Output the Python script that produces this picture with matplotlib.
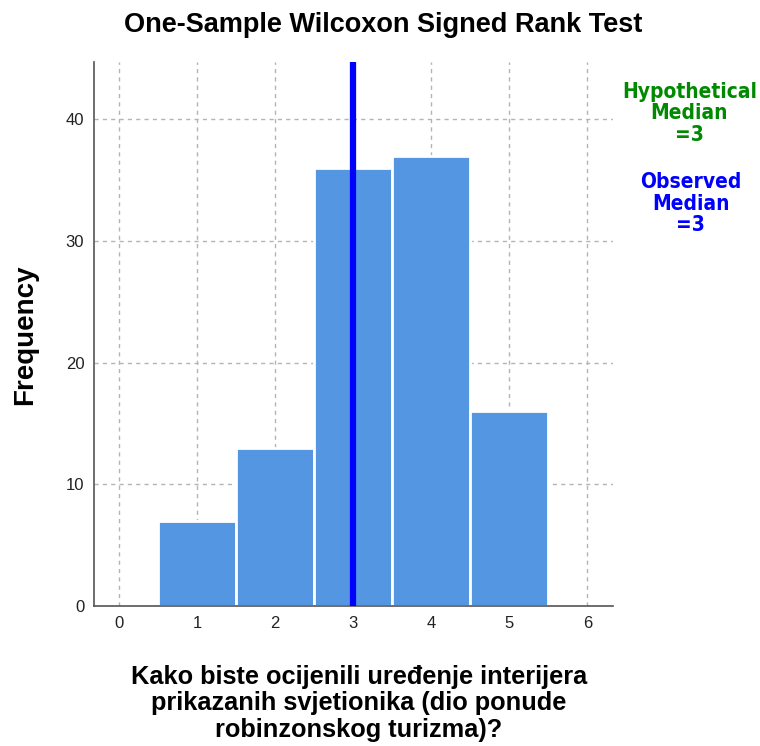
import matplotlib as mpl
import matplotlib.pyplot as plt
import numpy as np

mpl.rc('font', family=['Liberation Sans', 'DejaVu Sans'])

# data
values = [1, 2, 3, 4, 5]
counts = [7, 13, 36, 37, 16]
hyp_median = 3
obs_median = 3
title = "One-Sample Wilcoxon Signed Rank Test"
xlabel = "Kako biste ocijenili uređenje interijera\nprikazanih svjetionika (dio ponude\nrobinzonskog turizma)?"
ylabel = "Frequency"

fig = plt.figure(figsize=(7.6, 7.46), dpi=100, facecolor="w")
ax = fig.add_axes([0.1237, 0.1877, 0.6829, 0.7292])

ax.bar(values, counts, width=1.0, color="#5596e3", edgecolor="white",
       linewidth=2, zorder=2)
ax.axvline(obs_median, color="#0000ff", linewidth=4.5, zorder=3)

ax.set_xlim(-0.32, 6.33)
ax.set_ylim(0, 44.7)
ax.set_xticks(range(0, 7))
ax.set_yticks(range(0, 41, 10))
ax.grid(True, linestyle=(0, (3, 3)), color="#b4b4b4", linewidth=1, zorder=0)
ax.tick_params(length=0, labelsize=12, colors="#222222", pad=7)
for s in ["top", "right"]:
    ax.spines[s].set_visible(False)
for s in ["left", "bottom"]:
    ax.spines[s].set_color("#555555")
    ax.spines[s].set_linewidth(1.2)

fig.text(0.504, 0.966, title, ha="center", va="center", fontsize=19.5,
         fontweight="bold")
fig.text(0.033, 0.551, ylabel, ha="center", va="center", rotation=90,
         fontsize=20, fontweight="bold")
fig.text(0.472, 0.057, xlabel, ha="center", va="center", fontsize=18.3,
         fontweight="bold", linespacing=1.12)

fig.text(0.907, 0.848, "Hypothetical\nMedian\n=%d" % hyp_median, ha="center",
         va="center", fontsize=15, fontweight="bold", color="#008a00",
         linespacing=1.1, family="DejaVu Sans", fontstretch="condensed")
fig.text(0.909, 0.727, "Observed\nMedian\n=%d" % obs_median, ha="center",
         va="center", fontsize=15, fontweight="bold", color="#0000ff",
         linespacing=1.1, family="DejaVu Sans", fontstretch="condensed")

plt.savefig("out.png", dpi=100)
